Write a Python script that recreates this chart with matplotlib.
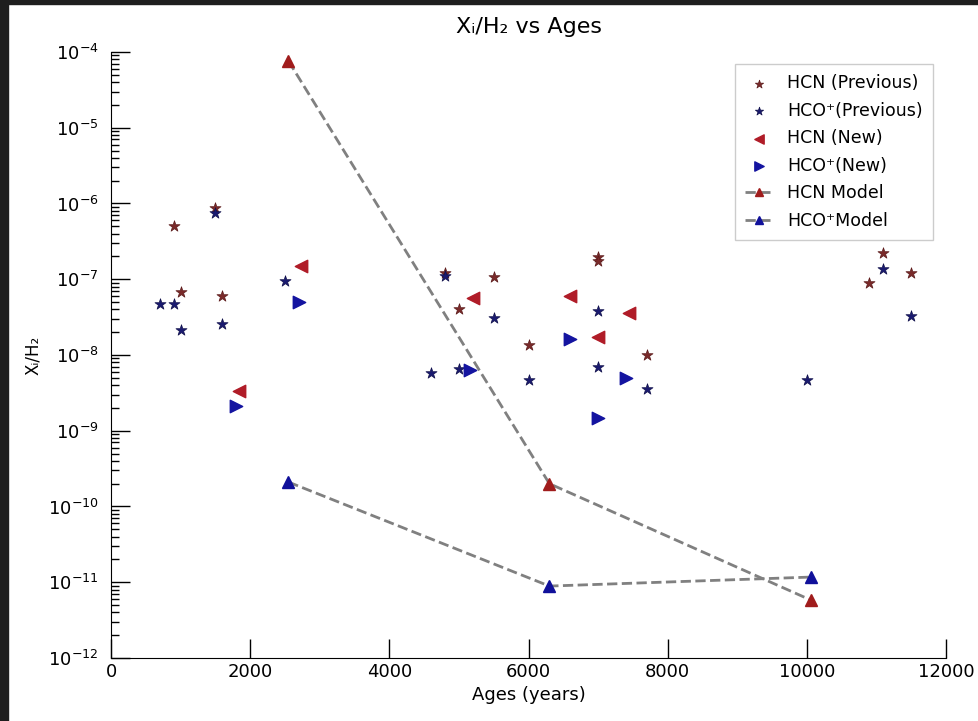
import matplotlib.pyplot as plt
from matplotlib.patches import Rectangle

# HCN previous observations
hcn_prev_age = [900, 1000, 1500, 1600, 4800, 5000, 5500, 6000, 7000, 7000, 7700, 10900, 11100, 11500]
hcn_prev_x = [5.0e-7, 6.8e-8, 8.7e-7, 6.0e-8, 1.2e-7, 4.0e-8, 1.07e-7, 1.35e-8, 1.95e-7, 1.75e-7,
              1.0e-8, 8.9e-8, 2.2e-7, 1.2e-7]

# HCO+ previous observations
hco_prev_age = [700, 900, 1000, 1500, 1600, 2500, 4600, 4800, 5000, 5500, 6000, 7000, 7000, 7700,
                10000, 11100, 11500]
hco_prev_x = [4.7e-8, 4.7e-8, 2.15e-8, 7.5e-7, 2.6e-8, 9.5e-8, 5.8e-9, 1.1e-7, 6.5e-9, 3.1e-8,
              4.7e-9, 3.8e-8, 6.9e-9, 3.55e-9, 4.7e-9, 1.36e-7, 3.3e-8]

# new observations
hcn_new_age = [1840, 2730, 5200, 6600, 7000, 7450]
hcn_new_x = [3.35e-9, 1.5e-7, 5.6e-8, 6.0e-8, 1.73e-8, 3.6e-8]
hco_new_age = [1800, 2700, 5160, 6600, 7400, 7000]
hco_new_x = [2.1e-9, 5.0e-8, 6.3e-9, 1.63e-8, 5.0e-9, 1.47e-9]

# models
model_age = [2550, 6300, 10060]
hcn_model = [7.6e-5, 2.0e-10, 5.8e-12]
hco_model = [2.1e-10, 8.9e-12, 1.17e-11]

fig = plt.figure(figsize=(9.79, 7.21), dpi=100)
ax = fig.add_axes([0.1134, 0.0874, 0.8529, 0.8405])

ax.scatter(hcn_prev_age, hcn_prev_x, marker='*', s=70, color='#7a2a2a', edgecolor='#5a1a1a',
           linewidth=0.5, label='HCN (Previous)', zorder=3)
ax.scatter(hco_prev_age, hco_prev_x, marker='*', s=70, color='#1a1a70', edgecolor='#10104a',
           linewidth=0.5, label='HCO⁺(Previous)', zorder=3)
ax.scatter(hcn_new_age, hcn_new_x, marker='<', s=80, color='#b01c28', label='HCN (New)', zorder=3)
ax.scatter(hco_new_age, hco_new_x, marker='>', s=80, color='#1414a0', label='HCO⁺(New)', zorder=3)
ax.plot(model_age, hcn_model, '--', color='gray', lw=2, marker='^', ms=8,
        mfc='#a01c1c', mec='#a01c1c', label='HCN Model', zorder=2)
ax.plot(model_age, hco_model, '--', color='gray', lw=2, marker='^', ms=8,
        mfc='#10109a', mec='#10109a', label='HCO⁺Model', zorder=2)

ax.set_yscale('log')
ax.set_xlim(0, 12000)
ax.set_ylim(1e-12, 1e-4)
ax.set_xticks(range(0, 12001, 2000))

ax.spines['top'].set_visible(False)
ax.spines['right'].set_visible(False)
ax.tick_params(which='major', direction='in', length=14, width=1, labelsize=13)
ax.tick_params(axis='y', which='major', pad=9)
ax.tick_params(which='minor', direction='in', length=6, width=1)
ax.tick_params(axis='x', which='minor', length=0)

ax.set_title('Xᵢ/H₂ vs Ages', fontsize=16, pad=14)
ax.set_xlabel('Ages (years)', fontsize=13)
ax.set_ylabel('Xᵢ/H₂', fontsize=12, labelpad=4)

leg = ax.legend(loc='upper right', bbox_to_anchor=(0.995, 0.995), fontsize=12.5,
                fancybox=False, framealpha=1, edgecolor='#cccccc', handlelength=1.6,
                markerscale=0.75, labelspacing=0.55, borderpad=0.6)

# dark screenshot border
fig.patches.append(Rectangle((0, 0), 8 / 979, 1, transform=fig.transFigure,
                             color='#1e1e1e', zorder=10))
fig.patches.append(Rectangle((0, 1 - 4 / 721), 1, 4 / 721, transform=fig.transFigure,
                             color='#1e1e1e', zorder=10))

fig.savefig('out.png', dpi=100)
